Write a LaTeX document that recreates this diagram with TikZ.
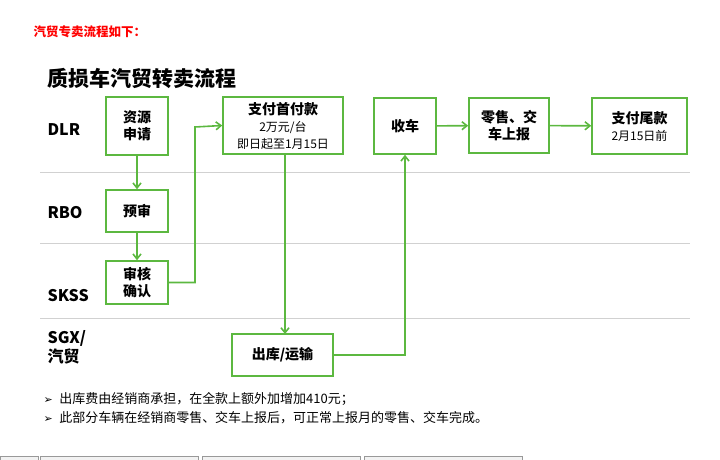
\documentclass[tikz,border=0pt]{standalone}
\usepackage{fontspec}
\setmainfont{Noto Sans CJK SC}
\newfontfamily\symfont{DejaVu Sans}
\usetikzlibrary{arrows.meta}
\definecolor{flowgreen}{RGB}{92,184,64}
\tikzset{
    stepbox/.style={draw=flowgreen,line width=1.6pt,fill=white,align=center,font=\bfseries\fontsize{14}{17}\selectfont,inner sep=0pt},
    flow/.style={-{Straight Barb[length=5pt,width=8pt]},draw=flowgreen,line width=1.6pt},
    lane/.style={draw=black!18,line width=0.4pt},
    role/.style={anchor=west,font=\bfseries\fontsize{16}{19}\selectfont}
}
\newcommand{\subline}{\mdseries\fontsize{12}{14}\selectfont}
\begin{document}
\begin{tikzpicture}[x=1pt,y=-1pt]
\useasboundingbox (0,0) rectangle (720,460);

% heading
\node[anchor=west,text=red,font=\bfseries\fontsize{12.5}{14}\selectfont] (intro) at (30,32) {汽贸专卖流程如下：};
\node[anchor=west,font=\bfseries\fontsize{21}{24}\selectfont] (title) at (44,78) {质损车汽贸转卖流程};

% lanes
\foreach \ly in {172,243,318}
    \draw[lane] (40,\ly) -- (690,\ly);
\node[role] (dlr) at (44,130) {DLR};
\node[role] (rbo) at (44,213) {RBO};
\node[role] (skss) at (44,296) {SKSS};
\node[role,align=left,anchor=north west] (sgx) at (44,327) {SGX/\\汽贸};

% steps
\node[stepbox,minimum width=62pt,minimum height=58pt] (apply) at (137,126) {资源\\申请};
\node[stepbox,minimum width=120pt,minimum height=57pt] (pay1) at (283,125.5)
    {支付首付款\\{\subline 2万元/台}\\{\subline 即日起至1月15日}};
\node[stepbox,minimum width=62pt,minimum height=56pt] (recv) at (405,126) {收车};
\node[stepbox,minimum width=80pt,minimum height=55pt] (retail) at (509,125.5) {零售、交\\车上报};
\node[stepbox,minimum width=95pt,minimum height=56pt] (pay2) at (639.5,126)
    {支付尾款\\{\subline 2月15日前}};
\node[stepbox,minimum width=62pt,minimum height=42pt] (pre) at (137,211) {预审};
\node[stepbox,minimum width=62pt,minimum height=43pt] (check) at (137,282.5) {审核\\确认};
\node[stepbox,minimum width=101pt,minimum height=42pt] (ship) at (282.5,355) {出库/运输};

% connectors
\draw[flow] (apply) -- (pre);
\draw[flow] (pre) -- (check);
\draw[flow] (check.east) -| (195,127) -- (pay1.west);
\draw[flow] (285,154) -- (285,334);
\draw[flow] (ship.east) -| (recv.south);
\draw[flow] (recv) -- (retail);
\draw[flow] (retail) -- (pay2);

% notes
\node[anchor=west,font=\fontsize{13}{15}\selectfont] (note1) at (40,399) {{\symfont\fontsize{11}{13}\selectfont ➢}\enspace 出库费由经销商承担，在全款上额外加增加410元；};
\node[anchor=west,font=\fontsize{13}{15}\selectfont] (note2) at (40,418) {{\symfont\fontsize{11}{13}\selectfont ➢}\enspace 此部分车辆在经销商零售、交车上报后，可正常上报月的零售、交车完成。};

% window tabs
\foreach \tx/\tw in {0/38,40/158,202/158,364/158}
    \draw[black!40,fill=black!5] (\tx,456) rectangle ++(\tw,6);
\end{tikzpicture}
\end{document}
